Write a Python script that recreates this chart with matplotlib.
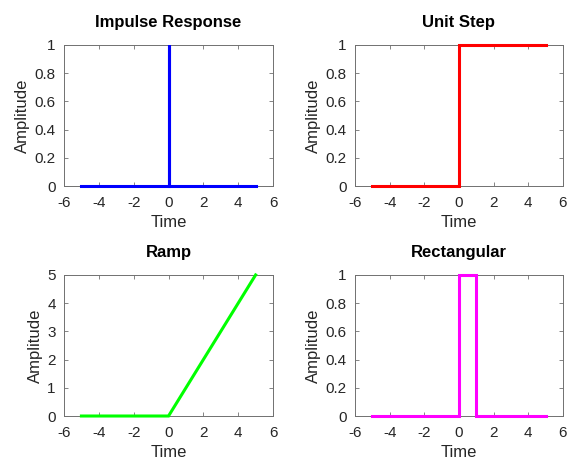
import matplotlib
matplotlib.use("Agg")
import matplotlib.pyplot as plt

plt.rcParams['font.family'] = ['Liberation Sans', 'DejaVu Sans']
plt.rcParams['axes.unicode_minus'] = False

# signal breakpoints
t_imp = [-5, 0, 0, 0, 5]
y_imp = [0, 0, 1, 0, 0]

t_step = [-5, 0, 0, 5]
y_step = [0, 0, 1, 1]

t_ramp = [-5, 0, 5]
y_ramp = [0, 0, 5]

t_rect = [-5, 0, 0, 1, 1, 5]
y_rect = [0, 0, 1, 1, 0, 0]

titles = ['Impulse Response', 'Unit Step', 'Ramp', 'Rectangular']
colors = ['#0000ff', '#ff0000', '#00ff00', '#ff00ff']
series = [(t_imp, y_imp), (t_step, y_step), (t_ramp, y_ramp), (t_rect, y_rect)]
ylims = [(0, 1), (0, 1), (0, 5), (0, 1)]

fig = plt.figure(figsize=(5.68, 4.61), dpi=100)
positions = [
    [0.1127, 0.5965, 0.368, 0.306],
    [0.625, 0.5965, 0.366, 0.306],
    [0.1127, 0.0976, 0.368, 0.306],
    [0.625, 0.0976, 0.366, 0.306],
]

txt = '#262626'
for pos, (t, y), title, c, yl in zip(positions, series, titles, colors, ylims):
    ax = fig.add_axes(pos)
    ax.plot(t, y, color=c, lw=2.2, solid_joinstyle='miter', clip_on=False, zorder=3)
    ax.set_xlim(-6, 6)
    ax.set_ylim(*yl)
    ax.set_xticks([-6, -4, -2, 0, 2, 4, 6])
    if yl[1] == 1:
        ax.set_yticks([0, 0.2, 0.4, 0.6, 0.8, 1])
        ax.set_yticklabels(['0', '0.2', '0.4', '0.6', '0.8', '1'])
    else:
        ax.set_yticks([0, 1, 2, 3, 4, 5])
    ax.tick_params(direction='in', top=True, right=True, length=3, width=0.6,
                   labelsize=11, labelcolor=txt, color='#707070')
    ax.tick_params(axis='x', pad=7.5)
    ax.tick_params(axis='y', pad=6)
    for s in ax.spines.values():
        s.set_linewidth(0.7)
        s.set_color('#707070')
    ax.set_title(title, fontsize=12, fontweight='bold', pad=13)
    ax.set_xlabel('Time', fontsize=12, color=txt, labelpad=3.5)
    ax.set_ylabel('Amplitude', fontsize=12, color=txt, labelpad=3)

fig.savefig('out.png', dpi=100)
